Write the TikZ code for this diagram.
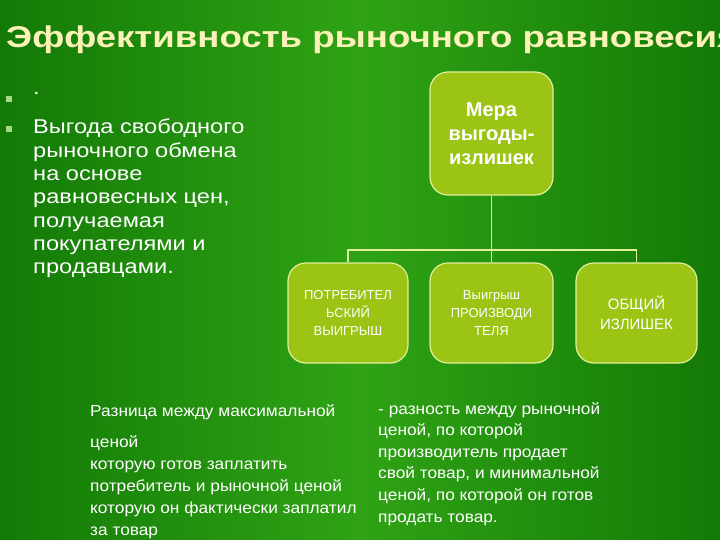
\documentclass[tikz,border=0pt]{standalone}
\usepackage{fontspec}
\setmainfont{Liberation Sans}
\definecolor{bgA}{HTML}{137A06}
\definecolor{bgB}{HTML}{2FA315}
\definecolor{boxfill}{HTML}{9CC414}
\definecolor{boxline}{HTML}{E2EE9C}
\definecolor{titlec}{HTML}{FBF2B8}
\definecolor{bulc}{HTML}{A8D88A}
\begin{document}
\begin{tikzpicture}[x=1pt,y=-1pt,
 gbox/.style={draw=boxline,line width=1.2pt,fill=boxfill,rounded corners=18pt,text=white,align=center,font=\bfseries},
 conn/.style={draw=boxline,line width=1.5pt},
 txt/.style={text=white,anchor=north west,inner sep=0pt,align=left}]
\useasboundingbox (0,0) rectangle (720,540);
\shade[left color=bgA,right color=bgA,middle color=bgB] (0,0) rectangle (720,540);
\node[text=titlec,font=\fontsize{30}{34}\selectfont\bfseries,anchor=west,inner sep=0pt,xscale=1.22] (title) at (6,40) {Эффективность рыночного равновесия};
\fill[bulc] (6,96) rectangle (12,102);
\fill[bulc] (6,126) rectangle (12,132);
\node[txt,font=\fontsize{20}{23.3}\selectfont,xscale=1.18] (b0) at (33,92) {.};
\node[txt,font=\fontsize{20}{23.3}\selectfont,xscale=1.18] (b1) at (33,119) {Выгода свободного\\рыночного обмена\\на основе\\равновесных цен,\\получаемая\\покупателями и\\продавцами.};
\node[gbox,minimum width=123pt,minimum height=123pt,font=\fontsize{20}{24}\selectfont\bfseries] (top) at (491.5,133.5) {Мера\\выгоды-\\излишек};
\node[gbox,minimum width=120pt,minimum height=100pt,font=\fontsize{13}{18}\selectfont] (c1) at (348,313) {ПОТРЕБИТЕЛ\\ЬСКИЙ\\ВЫИГРЫШ};
\node[gbox,minimum width=123pt,minimum height=100pt,font=\fontsize{13}{18}\selectfont] (c2) at (491.5,313) {Выигрыш\\ПРОИЗВОДИ\\ТЕЛЯ};
\node[gbox,minimum width=121pt,minimum height=100pt,font=\fontsize{15}{20}\selectfont] (c3) at (636.5,313) {ОБЩИЙ\\ИЗЛИШЕК};
\coordinate (j) at (491.5,250);
\draw[conn] (top.south) -- (j);
\draw[conn] (c1.north) |- (j) -| (c3.north);
\draw[conn] (j) -- (c2.north);
\node[txt,font=\fontsize{16}{22}\selectfont,xscale=1.08] (l1) at (90,404) {Разница между  максимальной\\[9pt]ценой\\ которую готов заплатить\\потребитель и рыночной ценой\\которую он фактически заплатил\\за товар};
\node[txt,font=\fontsize{16}{21.6}\selectfont,xscale=1.08] (r1) at (378,402) {- разность между рыночной\\ценой, по которой\\производитель продает\\свой товар, и минимальной\\ценой, по которой он готов\\продать товар.};
\end{tikzpicture}
\end{document}
